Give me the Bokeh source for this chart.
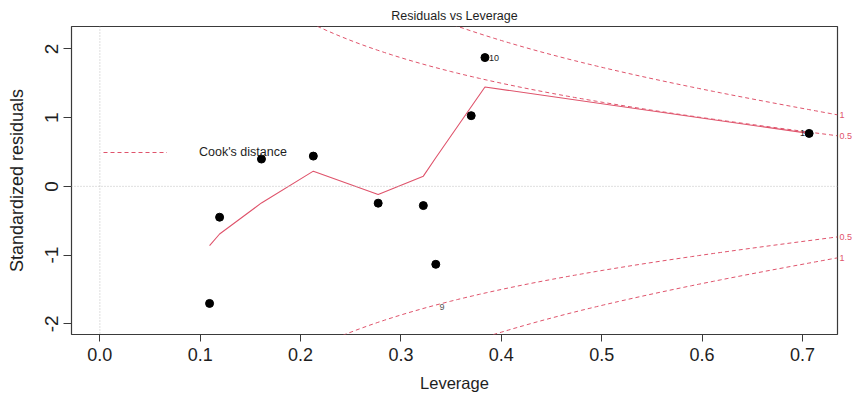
import numpy as np
from bokeh.plotting import figure
from bokeh.models import (Range1d, Span, Legend, LegendItem, LinearAxis,
                          FixedTicker)
from bokeh.core.properties import value
from bokeh.embed import file_html
from bokeh.resources import INLINE

# --- model diagnostics -------------------------------------------------
leverage = [0.1093, 0.1193, 0.1610, 0.2127, 0.2773, 0.3223, 0.3347, 0.3700, 0.3837, 0.7067]
std_resid = [-1.703, -0.449, 0.397, 0.440, -0.245, -0.280, -1.134, 1.028, 1.873, 0.770]
smooth_fit = [-0.862, -0.693, -0.241, 0.221, -0.119, 0.148, 0.416, 1.157, 1.445, 0.770]

# observation ids that get annotated
id_labels = ["10", "1", "9"]
id_lev = [0.3837, 0.7067, 0.341]
id_res = [1.873, 0.770, -1.752]

n_params = 3                 # rank of the fitted model
cook_levels = [0.5, 1.0]

x_ticks = [0.0, 0.1, 0.2, 0.3, 0.4, 0.5, 0.6, 0.7]
x_tick_labels = ["0.0", "0.1", "0.2", "0.3", "0.4", "0.5", "0.6", "0.7"]
y_ticks = [-2, -1, 0, 1, 2]
y_tick_labels = ["-2", "-1", "0", "1", "2"]

RED = "#DF536B"
INK = "#1e1e1e"
FONT = "Liberation Sans"

# --- axis limits the way plot.lm builds them -----------------------------
x_lo, x_hi = 0.0, max(leverage)
pad = 0.04 * (x_hi - x_lo)
x_start, x_end = x_lo - pad, x_hi + pad

r_lo, r_hi = min(std_resid), max(std_resid)
ext = 0.08 * (r_hi - r_lo)
r_lo, r_hi = r_lo - ext, r_hi + ext
pad = 0.04 * (r_hi - r_lo)
y_start, y_end = r_lo - pad, r_hi + pad

p = figure(width=855, height=396, output_backend="svg", toolbar_location=None,
           x_range=Range1d(x_start, x_end), y_range=Range1d(y_start, y_end),
           min_border_left=71, min_border_right=0, min_border_top=26,
           min_border_bottom=62)

p.grid.visible = False
p.outline_line_color = "#3a3a3a"
p.outline_line_width = 1.2
p.background_fill_color = "white"
p.border_fill_color = "white"

p.title.text = "Residuals vs Leverage"
p.title.align = "center"
p.title.text_font = FONT
p.title.text_font_size = "12.5px"
p.title.text_font_style = "normal"
p.title.text_color = INK
p.title.standoff = 7

# bottom axis
xa = p.xaxis[0]
xa.ticker = FixedTicker(ticks=x_ticks)
xa.major_label_overrides = {t: s for t, s in zip(x_ticks, x_tick_labels)}
xa.axis_label = "Leverage"
xa.axis_label_text_font = FONT
xa.axis_label_text_font_size = "16.5px"
xa.axis_label_text_font_style = "normal"
xa.axis_label_text_color = INK
xa.axis_label_standoff = 10
xa.major_label_text_font = FONT
xa.major_label_text_font_size = "18px"
xa.major_label_text_color = INK
xa.major_label_standoff = 6
xa.axis_line_color = None
xa.major_tick_line_color = "#3a3a3a"
xa.major_tick_out = 7
xa.major_tick_in = 0
xa.minor_tick_line_color = None

# left axis
ya = p.yaxis[0]
ya.ticker = FixedTicker(ticks=y_ticks)
ya.major_label_overrides = {t: s for t, s in zip(y_ticks, y_tick_labels)}
ya.major_label_orientation = "vertical"
ya.axis_label = "Standardized residuals"
ya.axis_label_text_font = FONT
ya.axis_label_text_font_size = "18px"
ya.axis_label_text_font_style = "normal"
ya.axis_label_text_color = INK
ya.axis_label_standoff = 16
ya.major_label_text_font = FONT
ya.major_label_text_font_size = "19px"
ya.major_label_text_color = INK
ya.major_label_standoff = 5
ya.axis_line_color = None
ya.major_tick_line_color = "#3a3a3a"
ya.major_tick_out = 8
ya.major_tick_in = 0
ya.minor_tick_line_color = None

# reference lines through zero
for dim in ("height", "width"):
    p.add_layout(Span(location=0, dimension=dim, line_color="#BEBEBE",
                      line_dash="1 2", line_width=1))

# Cook's distance contours
r_hat = (min(leverage), max(leverage))
hh = np.linspace(min(r_hat[0], r_hat[1] / 100), x_end, 101)
cook_renderer = None
for lvl in cook_levels:
    cl = np.sqrt(lvl * n_params * (1 - hh) / hh)
    r_up = p.line(hh, cl, line_color=RED, line_dash="4 3", line_width=1)
    p.line(hh, -cl, line_color=RED, line_dash="4 3", line_width=1)
    if cook_renderer is None:
        cook_renderer = r_up

# smoother through the residuals
p.line(leverage, smooth_fit, line_color=RED, line_width=1.1)

# observations
p.scatter(leverage, std_resid, size=8, color="black")

# ids of the most influential observations
p.text([id_lev[0]], [id_res[0]], text=[id_labels[0]], text_font=value(FONT),
       text_font_size="9px", text_color=INK, text_align="left",
       text_baseline="middle", x_offset=4)
p.text([id_lev[1]], [id_res[1]], text=[id_labels[1]], text_font=value(FONT),
       text_font_size="9px", text_color=INK, text_align="right",
       text_baseline="middle", x_offset=-4)
p.text([id_lev[2]], [id_res[2]], text=[id_labels[2]], text_font=value(FONT),
       text_font_size="9px", text_color="#555555", text_align="center",
       text_baseline="middle")

# contour levels marked on a tick-less right axis
x_cap = min(0.99, x_end)
ymult = np.sqrt(n_params * (1 - x_cap) / x_cap)
aty = [float(np.sqrt(l) * ymult) for l in cook_levels]
right_ticks = [-a for a in reversed(aty)] + aty
right_labels = ["%g" % l for l in list(reversed(cook_levels)) + cook_levels]
ra = LinearAxis(ticker=FixedTicker(ticks=right_ticks),
                major_label_overrides={t: s for t, s in zip(right_ticks, right_labels)},
                axis_line_color=None, major_tick_line_color=None,
                minor_tick_line_color=None, major_tick_out=0, major_tick_in=0,
                minor_tick_out=0, minor_tick_in=0,
                axis_label_standoff=0, major_label_text_color=RED,
                major_label_text_font=FONT, major_label_text_font_size="9px",
                major_label_standoff=2)
p.add_layout(ra, "right")

legend = Legend(items=[LegendItem(label="Cook's distance", renderers=[cook_renderer])],
                location=(32, 172), padding=0, margin=0, spacing=0,
                glyph_width=64, glyph_height=20, label_height=20,
                label_standoff=32, label_text_font=FONT,
                label_text_font_size="12.5px", label_text_color=INK,
                border_line_color=None, background_fill_alpha=0)
p.add_layout(legend)

open("out.html", "w").write(file_html(p, INLINE))
